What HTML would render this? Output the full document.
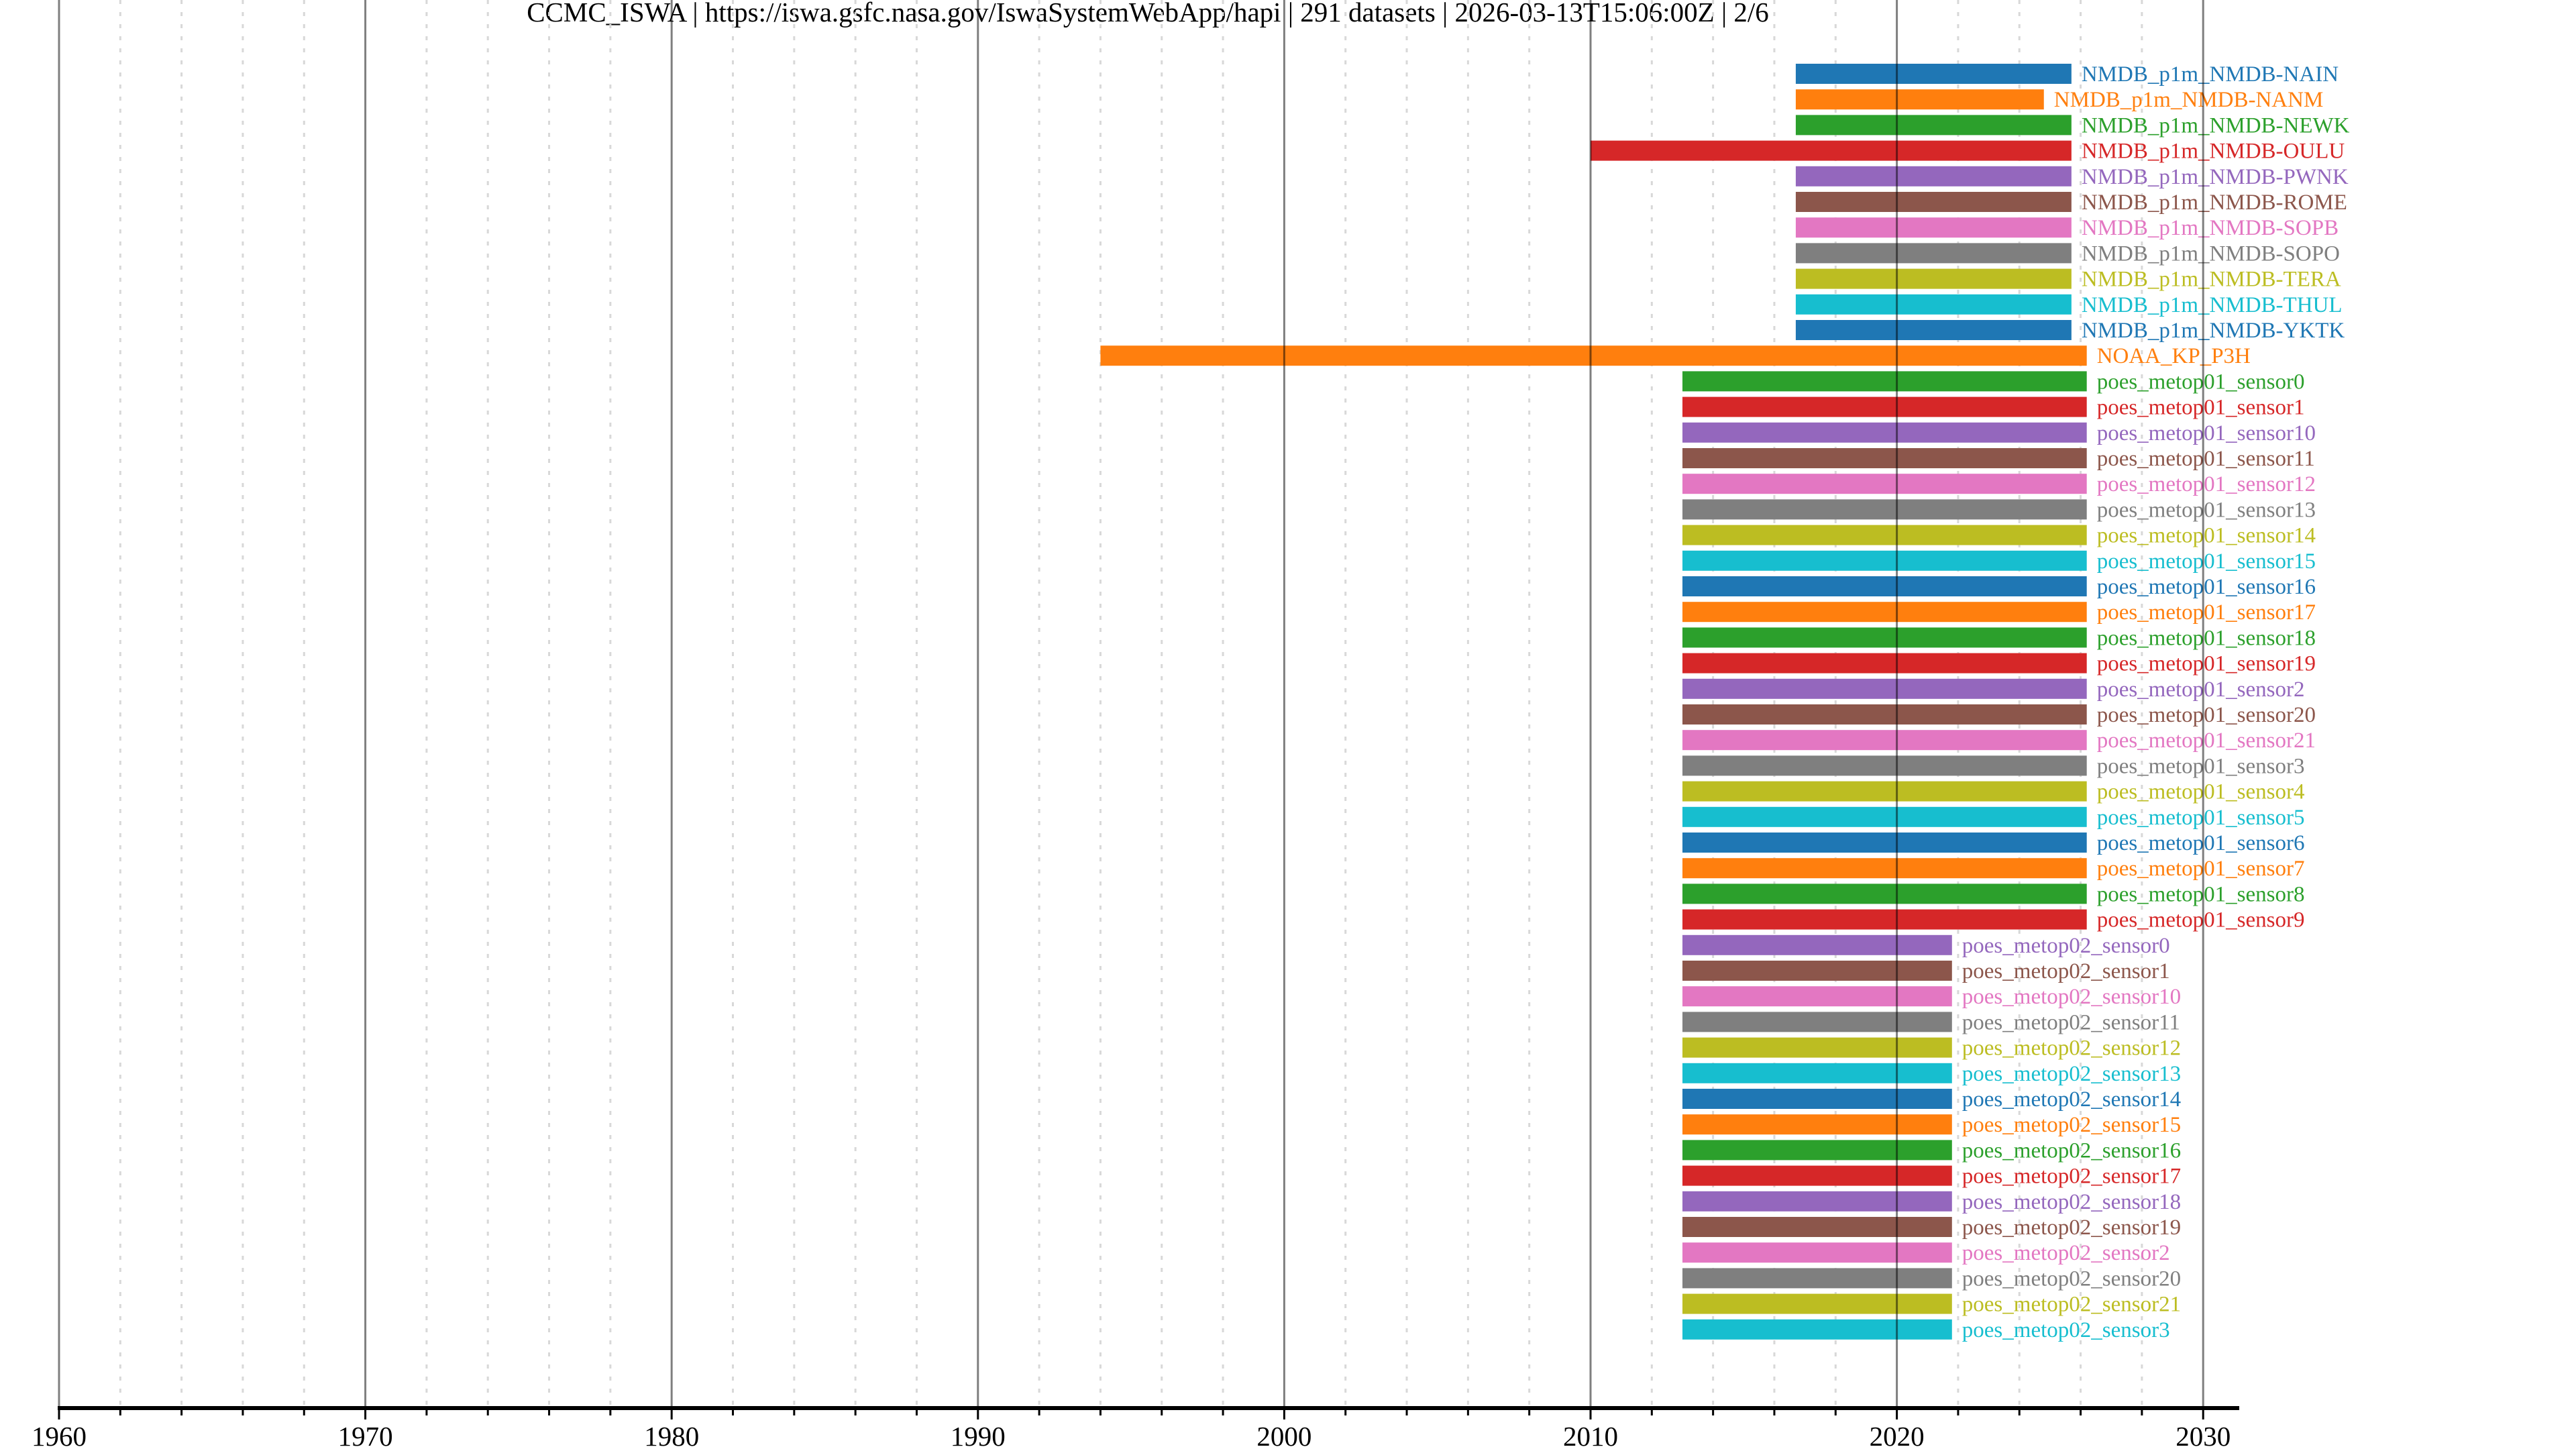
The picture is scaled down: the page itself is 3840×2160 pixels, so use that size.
<!DOCTYPE html>
<html><head><meta charset="utf-8">
<style>
html,body{margin:0;padding:0;background:#fff;}
svg{display:block;font-family:"Liberation Serif",serif;}
</style></head>
<body>
<svg id="chart" width="3840" height="2160" viewBox="0 0 3840 2160" xmlns="http://www.w3.org/2000/svg">
<text x="1711" y="32" font-size="41" text-anchor="middle" fill="#000">CCMC_ISWA | https://iswa.gsfc.nasa.gov/IswaSystemWebApp/hapi | 291 datasets | 2026-03-13T15:06:00Z | 2/6</text>
<g id="grid"></g>
<g id="bars"></g>
<g id="overgrid"></g>
<g id="axis"></g>
</svg>
<script>
const names = ["NMDB_p1m_NMDB-NAIN","NMDB_p1m_NMDB-NANM","NMDB_p1m_NMDB-NEWK","NMDB_p1m_NMDB-OULU","NMDB_p1m_NMDB-PWNK","NMDB_p1m_NMDB-ROME","NMDB_p1m_NMDB-SOPB","NMDB_p1m_NMDB-SOPO","NMDB_p1m_NMDB-TERA","NMDB_p1m_NMDB-THUL","NMDB_p1m_NMDB-YKTK","NOAA_KP_P3H"];
const m1 = ["0","1","10","11","12","13","14","15","16","17","18","19","2","20","21","3","4","5","6","7","8","9"];
const m2 = ["0","1","10","11","12","13","14","15","16","17","18","19","2","20","21","3"];
const starts = [2016.7,2016.7,2016.7,2010.0,2016.7,2016.7,2016.7,2016.7,2016.7,2016.7,2016.7,1994.0];
const ends = [2025.7,2024.8,2025.7,2025.7,2025.7,2025.7,2025.7,2025.7,2025.7,2025.7,2025.7,2026.2];
const metop01Start = 2013.0, metop01End = 2026.2;
const metop02Start = 2013.0, metop02End = 2021.8;
const tickYears = [1960,1970,1980,1990,2000,2010,2020,2030];

const colors = ["#1f77b4","#ff7f0e","#2ca02c","#d62728","#9467bd","#8c564b","#e377c2","#7f7f7f","#bcbd22","#17becf"];
const NS = "http://www.w3.org/2000/svg";
const x = y => 88 + (y - 1960) * 45.66;
const rowY = i => 110 + i * 38.2;
const BH = 30;
const AXY = 2099;

const rows = [];
names.forEach((n,i)=>rows.push({name:n,s:starts[i],e:ends[i]}));
m1.forEach(s=>rows.push({name:"poes_metop01_sensor"+s,s:metop01Start,e:metop01End}));
m2.forEach(s=>rows.push({name:"poes_metop02_sensor"+s,s:metop02Start,e:metop02End}));

function mk(tag, attrs, parent){ const el=document.createElementNS(NS,tag); for(const k in attrs) el.setAttribute(k,attrs[k]); parent.appendChild(el); return el; }

const grid=document.getElementById("grid");
for(let yr=1960; yr<=2030; yr+=2){
  if(yr%10===0) continue;
  const l=mk("line",{x1:x(yr),x2:x(yr),y1:0,y2:AXY,stroke:"#d8d8d8","stroke-width":3,"stroke-dasharray":"6,12"},grid);
  
  
}
const bars=document.getElementById("bars");
rows.forEach((r,i)=>{
  const c=colors[i%10], cy=rowY(i);
  const b=mk("rect",{x:x(r.s),y:cy-BH/2,width:x(r.e)-x(r.s),height:BH,fill:c},bars);
  
  
  const t=mk("text",{x:x(r.e)+15,y:cy+11,"font-size":33,fill:c},bars);
  t.textContent=r.name;
  
  
});
const og=document.getElementById("overgrid");
tickYears.forEach(yr=>{
  const l=mk("line",{x1:x(yr),x2:x(yr),y1:0,y2:AXY,stroke:"#000","stroke-opacity":0.5,"stroke-width":3},og);
  
  
});
const ax=document.getElementById("axis");
const al=mk("line",{x1:x(1960)-2,x2:3338,y1:AXY,y2:AXY,stroke:"#000","stroke-width":6},ax);


for(let yr=1960; yr<=2030; yr+=2){
  const major=yr%10===0;
  const tk=mk("line",{x1:x(yr),x2:x(yr),y1:AXY,y2:major?2116:2110,stroke:"#000","stroke-width":3},ax);
  
  
}
tickYears.forEach(yr=>{
  const t=mk("text",{x:x(yr),y:2155,"font-size":41,"text-anchor":"middle",fill:"#000"},ax);
  t.textContent=yr;
  
  
});
</script>
</body></html>
